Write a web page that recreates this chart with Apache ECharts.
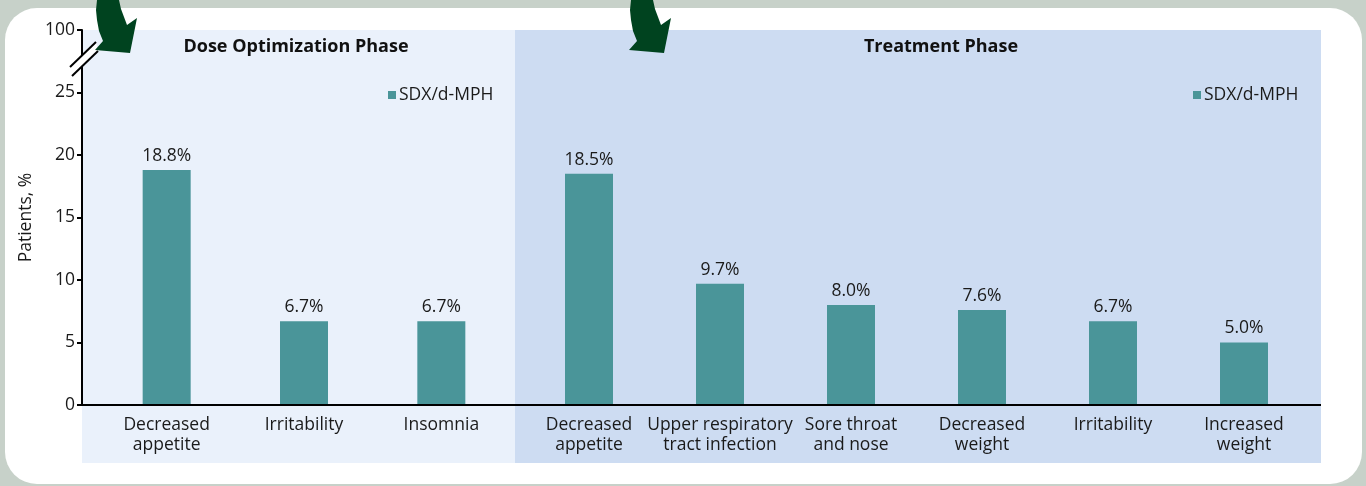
<!DOCTYPE html>
<html>
<head>
<meta charset="utf-8">
<script src="https://cdn.jsdelivr.net/npm/echarts@6/dist/echarts.min.js"></script>
<style>
  html, body { margin: 0; padding: 0; background: #c7d1c9; }
  #container { width: 1366px; height: 486px; }
</style>
</head>
<body>
<div id="container"></div>
<script>
var doseCats = ['Decreased\nappetite', 'Irritability', 'Insomnia'];
var doseVals = [18.8, 6.7, 6.7];
var treatCats = ['Decreased\nappetite', 'Upper respiratory\ntract infection', 'Sore throat\nand nose',
                 'Decreased\nweight', 'Irritability', 'Increased\nweight'];
var treatVals = [18.5, 9.7, 8.0, 7.6, 6.7, 5.0];
// the top tick stands in for 100 (axis break)
var yTop = 30;
var yTopLabel = '100';

var FONT = 'Open Sans';
var TEAL = '#4a9599';
var FS = 17.5;

var dom = document.getElementById('container');
var myChart = echarts.init(dom);

function barSeries(idx, vals) {
  return {
    name: 'SDX/d-MPH',
    type: 'bar',
    xAxisIndex: idx,
    yAxisIndex: idx,
    data: vals,
    barWidth: 48,
    itemStyle: { color: TEAL },
    label: {
      show: true,
      position: 'top',
      distance: 5,
      fontFamily: FONT,
      fontSize: FS,
      color: '#1a1a1a',
      formatter: function (p) { return p.value.toFixed(1) + '%'; }
    },
    z: 5
  };
}

function catAxis(idx, cats) {
  return {
    type: 'category',
    gridIndex: idx,
    data: cats,
    axisLine: { show: false },
    axisTick: { show: false },
    axisLabel: {
      interval: 0,
      margin: 10,
      fontFamily: FONT,
      fontSize: FS,
      lineHeight: 20,
      color: '#1a1a1a'
    }
  };
}

function legendAt(x) {
  return {
    data: ['SDX/d-MPH'], left: x, top: 86, padding: 0, icon: 'rect', itemWidth: 8, itemHeight: 8,
    textStyle: { fontFamily: FONT, fontSize: FS, color: '#1a1a1a', padding: [0, 0, 0, -2] }
  };
}

// arrow outline, shifted for each phase
function arrow(dx) {
  var pts = [[97, 0], [96, 10], [97, 20], [99, 31], [103, 41], [95, 50], [130, 53], [137, 18],
             [127, 25], [124, 17], [121, 9], [119, 0]];
  return {
    type: 'polygon', z: 60,
    shape: { points: pts.map(function (p) { return [p[0] + dx, p[1]]; }) },
    style: { fill: '#00431f' }
  };
}

var option = {
  backgroundColor: '#c7d1c9',
  animation: false,
  grid: [
    { left: 98, width: 412, top: 30, bottom: 81 },
    { left: 523.5, width: 786, top: 30, bottom: 81 }
  ],
  legend: [legendAt(388), legendAt(1193)],
  xAxis: [catAxis(0, doseCats), catAxis(1, treatCats)],
  yAxis: [
    {
      type: 'value', gridIndex: 0, min: 0, max: yTop, interval: 5, offset: 16,
      name: 'Patients, %', nameLocation: 'middle', nameGap: 47,
      nameTextStyle: { fontFamily: FONT, fontSize: FS, color: '#1a1a1a' },
      splitLine: { show: false },
      axisLine: { show: true, lineStyle: { color: '#000', width: 2 } },
      axisTick: { show: true, length: 5, lineStyle: { color: '#000', width: 2 } },
      axisLabel: {
        margin: 7, fontFamily: FONT, fontSize: FS, color: '#1a1a1a',
        formatter: function (v) { return v === yTop ? yTopLabel : String(v); }
      }
    },
    { type: 'value', gridIndex: 1, min: 0, max: yTop, interval: 5, show: false, splitLine: { show: false } }
  ],
  series: [barSeries(0, doseVals), barSeries(1, treatVals)],
  graphic: [
    { type: 'rect', z: -10, shape: { x: 5, y: 8, width: 1357, height: 476, r: 32 }, style: { fill: '#ffffff' } },
    { type: 'rect', z: -9, shape: { x: 82, y: 30, width: 433, height: 433 }, style: { fill: '#eaf1fb' } },
    { type: 'rect', z: -9, shape: { x: 515, y: 30, width: 806, height: 433 }, style: { fill: '#cddcf2' } },
    { type: 'line', z: 50, shape: { x1: 81, y1: 405, x2: 1321, y2: 405 }, style: { stroke: '#000', lineWidth: 2 } },
    // axis break
    { type: 'polygon', z: 50, shape: { points: [[70, 67], [96, 42], [98, 51], [72, 76]] }, style: { fill: '#ffffff' } },
    { type: 'line', z: 51, shape: { x1: 70, y1: 67, x2: 96, y2: 42 }, style: { stroke: '#000', lineWidth: 2 } },
    { type: 'line', z: 51, shape: { x1: 72, y1: 76, x2: 98, y2: 51 }, style: { stroke: '#000', lineWidth: 2 } },
    // phase titles
    { type: 'text', z: 50, style: { x: 296, y: 47, text: 'Dose Optimization Phase', textAlign: 'center', textVerticalAlign: 'middle',
        fontFamily: FONT, fontWeight: 'bold', fontSize: 18, fill: '#111' } },
    { type: 'text', z: 50, style: { x: 941, y: 47, text: 'Treatment Phase', textAlign: 'center', textVerticalAlign: 'middle',
        fontFamily: FONT, fontWeight: 'bold', fontSize: 18, fill: '#111' } },
    arrow(0),
    arrow(534)
  ]
};

myChart.setOption(option, true);
</script>
</body>
</html>
